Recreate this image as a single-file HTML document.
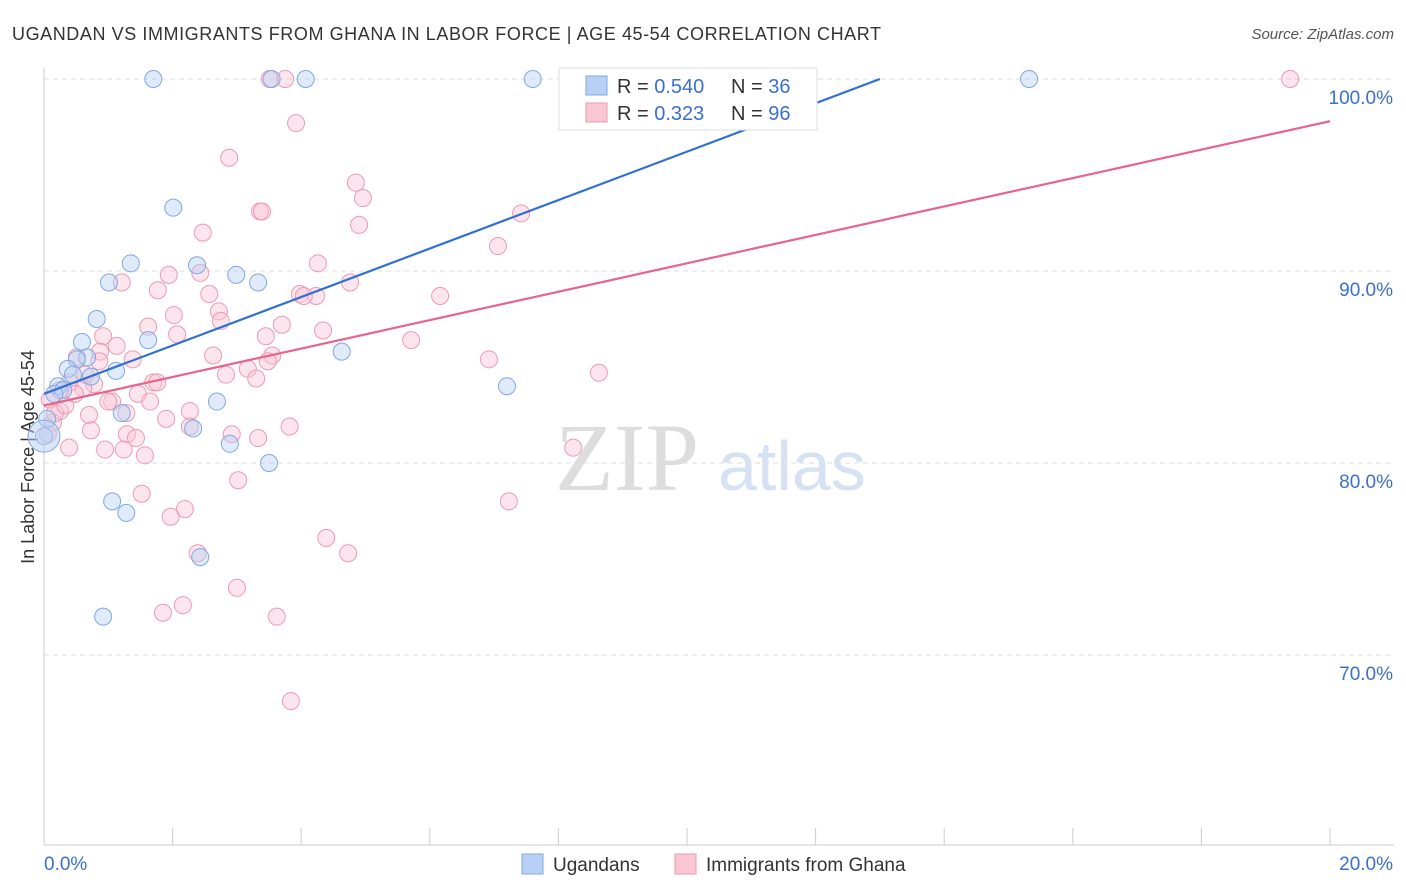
<!DOCTYPE html>
<html><head><meta charset="utf-8">
<style>
body{margin:0;background:#fff;font-family:"Liberation Sans",sans-serif;}
svg{display:block}
</style></head>
<body>
<svg id="chart" width="1406" height="892">
<text x="12" y="40" font-size="18" fill="#333" textLength="869" lengthAdjust="spacing">UGANDAN VS IMMIGRANTS FROM GHANA IN LABOR FORCE | AGE 45-54 CORRELATION CHART</text>
<text x="1394" y="39" font-size="15" fill="#555" font-style="italic" text-anchor="end">Source: ZipAtlas.com</text>
<g id="grid"></g>
<text x="555" y="490" font-size="96" fill="#ddd" font-family="Liberation Serif,serif">ZIP</text>
<text x="718" y="490" font-size="70" fill="#d6e2f3">atlas</text>
<text transform="translate(34,457) rotate(-90)" font-size="18" fill="#333" text-anchor="middle">In Labor Force | Age 45-54</text>
<g id="marks"></g>
<g>
<rect x="559" y="68" width="258" height="62" fill="#fff" stroke="#ddd"/>
<rect x="586" y="76" width="21" height="19" fill="#b8d0f4" stroke="#7fa8e6"/>
<rect x="586" y="103" width="21" height="19" fill="#f9c6d4" stroke="#ee9ab2"/>
<text x="617" y="93" font-size="20" fill="#333">R = <tspan fill="#3a6fd0">0.540</tspan></text>
<text x="731" y="93" font-size="20" fill="#333">N = <tspan fill="#3a6fd0">36</tspan></text>
<text x="617" y="120" font-size="20" fill="#333">R =  <tspan fill="#3a6fd0">0.323</tspan></text>
<text x="731" y="120" font-size="20" fill="#333">N = <tspan fill="#3a6fd0">96</tspan></text>
</g>
<g>
<rect x="522" y="854" width="21" height="20" fill="#b8d0f4" stroke="#7fa8e6"/>
<text x="553" y="871" font-size="19" fill="#333">Ugandans</text>
<rect x="675" y="854" width="21" height="20" fill="#f9c6d4" stroke="#ee9ab2"/>
<text x="706" y="871" font-size="19" fill="#333">Immigrants from Ghana</text>
</g>
</svg>
<script>
const xTicks=[0,20];
const yTicks=[100,90,80,70];
const blueX=[1.70,3.54,4.07,7.60,15.32,2.01,1.35,2.38,2.99,3.33,1.01,0.82,0.59,1.62,0.67,0.51,4.63,1.12,0.37,0.73,0.45,0.22,0.30,7.20,2.69,1.21,2.32,2.89,3.50,1.06,1.28,2.43,0.92,0.0,0.16,0.05];
const blueY=[100,100,100,100,100,93.3,90.4,90.3,89.8,89.4,89.4,87.5,86.3,86.4,85.5,85.4,85.8,84.8,84.9,84.5,84.6,84.0,83.8,84.0,83.2,82.6,81.8,81.0,80.0,78.0,77.4,75.1,72.0,81.4,83.6,82.3];
const pinkX=[19.38,3.51,3.75,3.92,2.88,4.85,4.96,3.36,3.39,7.42,4.90,2.47,7.06,4.26,1.94,2.43,4.76,1.77,2.57,3.98,4.23,4.04,6.16,1.21,2.72,2.02,2.75,1.62,3.70,4.34,2.07,0.92,3.45,5.71,1.13,0.87,2.63,3.55,3.48,0.51,1.38,0.86,6.92,3.17,2.83,3.30,8.63,1.70,1.76,0.78,0.61,0.40,1.46,1.65,1.06,1.00,1.28,0.70,0.249,2.27,1.90,0.14,0.73,1.29,1.43,2.27,2.92,3.82,0.39,0.95,1.24,1.57,3.33,8.23,3.02,1.52,7.23,2.19,1.97,4.39,4.73,2.39,3.00,2.16,1.85,3.62,3.84,0.09,0.17,0.25,0.06,0.33,0.48,0.64];
const pinkY=[100,100,100,97.7,95.9,94.6,93.8,93.1,93.1,93.0,92.4,92.0,91.3,90.4,89.8,89.9,89.4,89.0,88.8,88.8,88.7,88.7,88.7,89.4,87.9,87.7,87.4,87.1,87.2,86.9,86.7,86.6,86.6,86.4,86.1,85.8,85.6,85.6,85.3,85.5,85.4,85.3,85.4,84.9,84.6,84.4,84.7,84.2,84.2,84.1,83.9,84.2,83.6,83.2,83.2,83.2,82.6,82.5,82.7,82.7,82.3,82.1,81.7,81.5,81.3,81.9,81.5,81.9,80.8,80.7,80.7,80.4,81.3,80.8,79.1,78.4,78.0,77.6,77.2,76.1,75.3,75.3,73.5,72.6,72.2,72.0,67.6,83.3,82.6,83.8,81.5,83.0,83.6,84.6];
const blueLine=[[0,83.6],[13.0,100]];
const pinkLine=[[0,83.0],[20,97.8]];
const NS='http://www.w3.org/2000/svg';
const X=v=>44+v/20*1286;
const Y=v=>79+(100-v)*19.2;
function mk(tag,attrs,parent){const e=document.createElementNS(NS,tag);for(const k in attrs)e.setAttribute(k,attrs[k]);parent.appendChild(e);return e;}
const g=document.getElementById('grid'),m=document.getElementById('marks');
yTicks.forEach(t=>{
 const l=mk('line',{x1:44,x2:1394,y1:Y(t),y2:Y(t),stroke:'#ddd','stroke-dasharray':'5,4'},g);
 
 
 const tx=mk('text',{x:1393,y:Y(t)+25,'font-size':19,fill:'#3a6fd0','text-anchor':'end'},g);tx.textContent=t.toFixed(1)+'%';
 
 
});
mk('line',{x1:44,x2:44,y1:68,y2:845,stroke:'#ccc'},g);
mk('line',{x1:44,x2:1394,y1:845,y2:845,stroke:'#ccc'},g);
for(let i=0;i<=10;i++){mk('line',{x1:X(i*2),x2:X(i*2),y1:828,y2:845,stroke:'#ccc'},g);}
xTicks.forEach((t,i)=>{
 const tx=mk('text',{x:i?1393:44,y:870,'font-size':19,fill:'#3a6fd0','text-anchor':i?'end':'start'},g);tx.textContent=t.toFixed(1)+'%';
 
 
});
function dots(xs,ys,fill,stroke,name){xs.forEach((v,i)=>{
 const c=mk('circle',{cx:X(v),cy:Y(ys[i]),r:8.5,fill:fill,'fill-opacity':0.45,stroke:stroke,'stroke-width':1},m);
 
 
});}
dots(pinkX,pinkY,'#f9c6d4','#ee9ab2','point-ghana');
dots(blueX,blueY,'#b8d0f4','#7fa8e6','point-ugandan');
const big=mk('circle',{cx:X(0),cy:Y(81.4),r:16,fill:'#b8d0f4','fill-opacity':0.5,stroke:'#7fa8e6'},m);


const bl=mk('line',{x1:X(blueLine[0][0]),y1:Y(blueLine[0][1]),x2:X(blueLine[1][0]),y2:Y(blueLine[1][1]),stroke:'#2f6fd6','stroke-width':2.2},m);


const pl=mk('line',{x1:X(pinkLine[0][0]),y1:Y(pinkLine[0][1]),x2:X(pinkLine[1][0]),y2:Y(pinkLine[1][1]),stroke:'#e8638d','stroke-width':2.2},m);


</script>
</body></html>
